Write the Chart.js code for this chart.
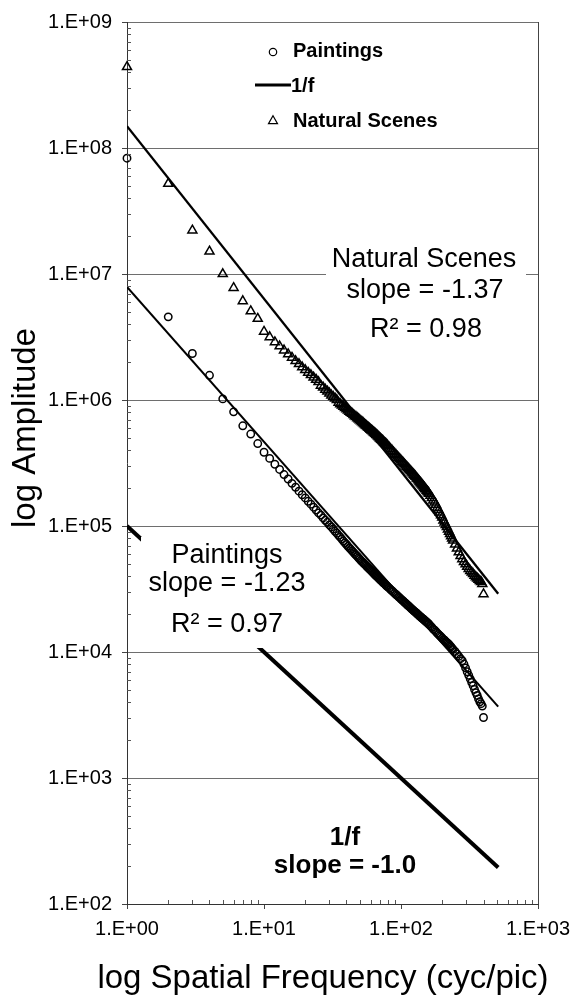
<!DOCTYPE html>
<html>
<head>
<meta charset="utf-8">
<title>Amplitude spectra of paintings and natural scenes</title>
<script src="https://cdn.jsdelivr.net/npm/chart.js@4.4.0/dist/chart.umd.min.js"></script>
<style>
  html, body { margin: 0; padding: 0; background: #fff; }
  #wrap { width: 578px; height: 999px; position: relative; }
</style>
</head>
<body>
<div id="wrap"><canvas id="spectrum"></canvas></div>
<script>
const FONT = "'Liberation Sans', Arial, Helvetica, sans-serif";

// spatial frequency (cyc/pic) of the plotted points
const freq = [1, 2, 3, 4, 5, 6, 7, 8, 9, 10,
  11, 12, 13, 14, 15, 16, 17, 18, 19, 20,
  21, 22, 23, 24, 25, 26, 27, 28, 29, 30,
  31, 32, 33, 34, 35, 36, 37, 38, 39, 40,
  41, 42, 43, 44, 45, 46, 47, 48, 49, 50,
  51, 52, 53, 54, 55, 56, 57, 58, 59, 60,
  61, 62, 63, 64, 65, 66, 67, 68, 69, 70,
  71, 72, 73, 74, 75, 76, 77, 78, 79, 80,
  82, 84, 86, 88, 90, 92, 94, 96, 98, 100,
  102, 104, 106, 108, 110, 112, 114, 116, 118, 120,
  122, 124, 126, 128, 130, 132, 134, 136, 138, 140,
  142, 144, 146, 148, 150, 152, 154, 156, 158, 160,
  164, 168, 172, 176, 180, 184, 188, 192, 196, 200,
  204, 208, 212, 216, 220, 224, 228, 232, 236, 240,
  248, 256, 264, 272, 280, 288, 296, 304, 312, 320,
  328, 336, 344, 352, 360, 368, 376, 384, 392, 400];

// amplitude
const paintings = [8.3e7, 4.57e6, 2.34e6, 1.57e6, 1.02e6, 8.05e5, 6.24e5, 5.37e5, 4.51e5, 3.85e5,
  3.44e5, 3.09e5, 2.81e5, 2.56e5, 2.36e5, 2.18e5, 2.03e5, 1.89e5, 1.77e5, 1.67e5,
  1.57e5, 1.49e5, 1.41e5, 1.34e5, 1.27e5, 1.22e5, 1.16e5, 1.11e5, 1.07e5, 1.02e5,
  9.84e4, 9.46e4, 9.08e4, 8.77e4, 8.43e4, 8.15e4, 7.87e4, 7.59e4, 7.35e4, 7.13e4,
  6.9e4, 6.71e4, 6.53e4, 6.35e4, 6.18e4, 6.01e4, 5.87e4, 5.73e4, 5.58e4, 5.45e4,
  5.32e4, 5.21e4, 5.11e4, 5.01e4, 4.91e4, 4.81e4, 4.71e4, 4.63e4, 4.54e4, 4.46e4,
  4.39e4, 4.31e4, 4.23e4, 4.16e4, 4.08e4, 4.02e4, 3.96e4, 3.89e4, 3.84e4, 3.78e4,
  3.72e4, 3.67e4, 3.62e4, 3.56e4, 3.52e4, 3.47e4, 3.43e4, 3.37e4, 3.33e4, 3.29e4,
  3.21e4, 3.13e4, 3.06e4, 2.99e4, 2.92e4, 2.86e4, 2.8e4, 2.74e4, 2.69e4, 2.63e4,
  2.58e4, 2.53e4, 2.48e4, 2.44e4, 2.39e4, 2.35e4, 2.31e4, 2.27e4, 2.23e4, 2.19e4,
  2.16e4, 2.12e4, 2.09e4, 2.06e4, 2.03e4, 2.0e4, 1.97e4, 1.94e4, 1.91e4, 1.89e4,
  1.86e4, 1.84e4, 1.82e4, 1.79e4, 1.77e4, 1.75e4, 1.72e4, 1.71e4, 1.68e4, 1.66e4,
  1.61e4, 1.57e4, 1.52e4, 1.49e4, 1.45e4, 1.41e4, 1.38e4, 1.35e4, 1.32e4, 1.29e4,
  1.26e4, 1.24e4, 1.21e4, 1.19e4, 1.17e4, 1.15e4, 1.12e4, 1.1e4, 1.07e4, 1.05e4,
  1.01e4, 9.64e3, 9.23e3, 8.85e3, 8.53e3, 8.02e3, 7.48e3, 6.97e3, 6.53e3, 6.12e3,
  5.73e3, 5.4e3, 5.05e3, 4.76e3, 4.52e3, 4.24e3, 4.03e3, 3.89e3, 3.72e3, 3.02e3];

const naturalScenes = [4.4e8, 5.21e7, 2.22e7, 1.51e7, 1.0e7, 7.76e6, 6.1e6, 5.07e6, 4.42e6, 3.49e6,
  3.16e6, 2.88e6, 2.67e6, 2.48e6, 2.31e6, 2.17e6, 2.04e6, 1.93e6, 1.82e6, 1.73e6,
  1.65e6, 1.58e6, 1.51e6, 1.45e6, 1.39e6, 1.3e6, 1.26e6, 1.21e6, 1.17e6, 1.13e6,
  1.09e6, 1.06e6, 1.03e6, 1.0e6, 9.53e5, 9.29e5, 9.06e5, 8.85e5, 8.65e5, 8.45e5,
  8.26e5, 8.09e5, 7.94e5, 7.78e5, 7.62e5, 7.46e5, 7.33e5, 7.19e5, 7.06e5, 6.93e5,
  6.79e5, 6.68e5, 6.56e5, 6.44e5, 6.32e5, 6.22e5, 6.11e5, 6.03e5, 5.92e5, 5.82e5,
  5.74e5, 5.65e5, 5.56e5, 5.47e5, 5.4e5, 5.31e5, 5.24e5, 5.14e5, 5.07e5, 4.99e5,
  4.92e5, 4.85e5, 4.78e5, 4.71e5, 4.63e5, 4.57e5, 4.52e5, 4.45e5, 4.39e5, 4.33e5,
  4.2e5, 4.08e5, 3.97e5, 3.86e5, 3.76e5, 3.66e5, 3.56e5, 3.48e5, 3.4e5, 3.31e5,
  3.23e5, 3.16e5, 3.09e5, 3.02e5, 2.96e5, 2.89e5, 2.83e5, 2.77e5, 2.72e5, 2.66e5,
  2.61e5, 2.56e5, 2.51e5, 2.46e5, 2.4e5, 2.36e5, 2.31e5, 2.26e5, 2.22e5, 2.18e5,
  2.14e5, 2.1e5, 2.06e5, 2.02e5, 1.98e5, 1.95e5, 1.91e5, 1.88e5, 1.85e5, 1.81e5,
  1.74e5, 1.67e5, 1.6e5, 1.54e5, 1.48e5, 1.4e5, 1.34e5, 1.28e5, 1.22e5, 1.17e5,
  1.11e5, 1.07e5, 1.02e5, 9.82e4, 9.4e4, 9.02e4, 8.65e4, 8.32e4, 7.98e4, 7.69e4,
  7.14e4, 6.64e4, 6.19e4, 5.79e4, 5.46e4, 5.2e4, 4.97e4, 4.75e4, 4.57e4, 4.41e4,
  4.28e4, 4.16e4, 4.04e4, 3.93e4, 3.84e4, 3.75e4, 3.67e4, 3.6e4, 3.47e4, 2.88e4];

// power-law lines, given by their two end points
const lineFreq = [1, 512];
const paintingsFit = [7.9e6, 3.68e3];
const naturalFit = [1.49e8, 2.9e4];
const oneOverF = [1e5, 195];

const xTickValues = [1, 10, 100, 1000];
const xTickLabels = ['1.E+00', '1.E+01', '1.E+02', '1.E+03'];
const yTickValues = [1e2, 1e3, 1e4, 1e5, 1e6, 1e7, 1e8, 1e9];
const yTickLabels = ['1.E+02', '1.E+03', '1.E+04', '1.E+05', '1.E+06', '1.E+07', '1.E+08', '1.E+09'];

const toPoints = (xs, ys) => xs.map((x, i) => ({ x: x, y: ys[i] }));

const circleStyle = { pointStyle: 'circle', radius: 3.7, borderWidth: 1.5, rotation: 0 };
const triangleStyle = { pointStyle: 'triangle', radius: 5.2, borderWidth: 1.5, rotation: 0 };

// white-backed notes on the plot, legend, minor ticks and axis titles
const extras = {
  id: 'extras',
  afterDatasetsDraw(chart) {
    const ctx = chart.ctx;
    const a = chart.chartArea;
    const xs = chart.scales.x, ys = chart.scales.y;
    ctx.save();

    // frame right side
    ctx.strokeStyle = '#444';
    ctx.lineWidth = 1;
    ctx.beginPath();
    ctx.moveTo(Math.round(a.right) + 0.5, a.top);
    ctx.lineTo(Math.round(a.right) + 0.5, a.bottom);
    ctx.stroke();

    // minor ticks, pointing into the plot
    ctx.strokeStyle = '#555';
    ctx.beginPath();
    for (let d = 0; d < 3; d++) {
      for (let k = 2; k <= 9; k++) {
        const px = Math.round(xs.getPixelForValue(k * Math.pow(10, d))) + 0.5;
        ctx.moveTo(px, a.bottom);
        ctx.lineTo(px, a.bottom - 4);
      }
    }
    for (let d = 2; d < 9; d++) {
      for (let k = 2; k <= 9; k++) {
        const py = Math.round(ys.getPixelForValue(k * Math.pow(10, d))) + 0.5;
        ctx.moveTo(a.left, py);
        ctx.lineTo(a.left + 4, py);
      }
    }
    ctx.stroke();

    ctx.textAlign = 'center';
    ctx.textBaseline = 'alphabetic';

    // fit notes
    ctx.fillStyle = '#fff';
    ctx.fillRect(326, 247, 200, 98);
    ctx.fillRect(141, 537, 171, 111);
    ctx.fillStyle = '#000';
    ctx.font = '27px ' + FONT;
    ctx.fillText('Natural Scenes', 424, 267);
    ctx.fillText('slope = -1.37', 425, 298);
    ctx.fillText('R\u00B2 = 0.98', 426, 337);
    ctx.fillText('Paintings', 227, 563);
    ctx.fillText('slope = -1.23', 227, 591);
    ctx.fillText('R\u00B2 = 0.97', 227, 632);

    ctx.font = 'bold 26px ' + FONT;
    ctx.fillText('1/f', 345, 845);
    ctx.fillText('slope = -1.0', 345, 873);

    // legend
    ctx.textAlign = 'left';
    ctx.font = 'bold 20px ' + FONT;
    ctx.strokeStyle = '#000';
    ctx.fillStyle = 'rgba(0,0,0,0)';
    ctx.lineWidth = 1.2;
    Chart.helpers.drawPoint(ctx, circleStyle, 273, 52);
    Chart.helpers.drawPoint(ctx, triangleStyle, 273, 121);
    ctx.lineWidth = 3;
    ctx.beginPath();
    ctx.moveTo(255, 85);
    ctx.lineTo(291, 85);
    ctx.stroke();
    ctx.fillStyle = '#000';
    ctx.fillText('Paintings', 293, 57);
    ctx.fillText('1/f', 291, 92);
    ctx.fillText('Natural Scenes', 293, 127);

    ctx.restore();
  },
  afterDraw(chart) {
    const ctx = chart.ctx;
    ctx.save();
    ctx.fillStyle = '#000';
    ctx.font = '33px ' + FONT;
    ctx.textAlign = 'center';
    ctx.textBaseline = 'alphabetic';
    ctx.fillText('log Spatial Frequency (cyc/pic)', 323, 988);
    ctx.translate(35, 428);
    ctx.rotate(-Math.PI / 2);
    ctx.fillText('log Amplitude', 0, 0);
    ctx.restore();
  }
};

const chart = new Chart(document.getElementById('spectrum'), {
  type: 'scatter',
  data: {
    datasets: [
      {
        label: 'Paintings',
        data: toPoints(freq, paintings),
        showLine: false,
        pointStyle: 'circle',
        pointRadius: circleStyle.radius,
        pointBorderWidth: circleStyle.borderWidth,
        pointBorderColor: '#000',
        pointBackgroundColor: 'rgba(0,0,0,0)',
        clip: false
      },
      {
        label: 'Natural Scenes',
        data: toPoints(freq, naturalScenes),
        showLine: false,
        pointStyle: 'triangle',
        pointRadius: triangleStyle.radius,
        pointBorderWidth: triangleStyle.borderWidth,
        pointBorderColor: '#000',
        pointBackgroundColor: 'rgba(0,0,0,0)',
        clip: false
      },
      {
        label: 'Paintings fit',
        data: toPoints(lineFreq, paintingsFit),
        showLine: true,
        borderColor: '#000',
        borderWidth: 2,
        pointRadius: 0
      },
      {
        label: 'Natural Scenes fit',
        data: toPoints(lineFreq, naturalFit),
        showLine: true,
        borderColor: '#000',
        borderWidth: 2.3,
        pointRadius: 0
      },
      {
        label: '1/f',
        data: toPoints(lineFreq, oneOverF),
        showLine: true,
        borderColor: '#000',
        borderWidth: 4,
        pointRadius: 0
      }
    ]
  },
  options: {
    responsive: true,
    maintainAspectRatio: false,
    animation: false,
    events: [],
    layout: { padding: { top: 15, right: 37, left: 0, bottom: 0 } },
    plugins: {
      legend: { display: false },
      tooltip: { enabled: false }
    },
    scales: {
      x: {
        type: 'logarithmic',
        min: 1,
        max: 1000,
        afterBuildTicks: (scale) => { scale.ticks = xTickValues.map(v => ({ value: v })); },
        afterFit: (scale) => { scale.height = 95; },
        ticks: {
          autoSkip: false,
          maxRotation: 0,
          padding: 8,
          color: '#000',
          font: { family: FONT, size: 20 },
          callback: (v) => xTickLabels[xTickValues.indexOf(v)]
        },
        grid: { drawOnChartArea: false, drawTicks: true, tickLength: 5, tickColor: '#444' },
        border: { color: '#333', width: 1 }
      },
      y: {
        type: 'logarithmic',
        min: 1e2,
        max: 1e9,
        afterBuildTicks: (scale) => { scale.ticks = yTickValues.map(v => ({ value: v })); },
        afterFit: (scale) => { scale.width = 127; },
        ticks: {
          autoSkip: false,
          padding: 10,
          color: '#000',
          font: { family: FONT, size: 20 },
          callback: (v) => yTickLabels[yTickValues.indexOf(v)]
        },
        grid: { color: '#6e6e6e', lineWidth: 1, drawTicks: true, tickLength: 5, tickColor: '#444' },
        border: { color: '#333', width: 1 }
      }
    }
  },
  plugins: [extras]
});
</script>
</body>
</html>
